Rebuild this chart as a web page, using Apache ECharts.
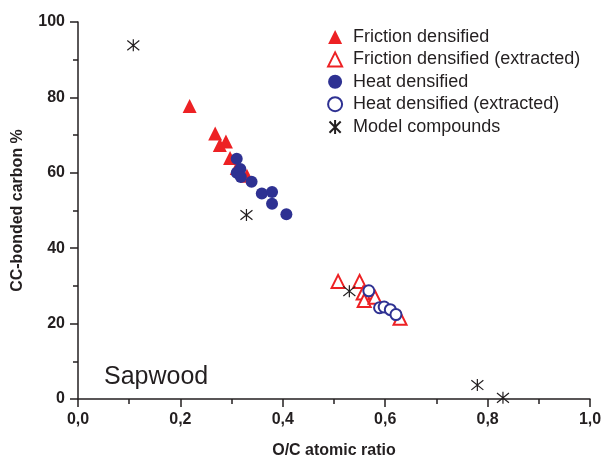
<!DOCTYPE html>
<html>
<head>
<meta charset="utf-8">
<script src="https://cdn.jsdelivr.net/npm/echarts@6/dist/echarts.min.js"></script>
<style>
html, body { margin: 0; padding: 0; background: #fff; }
#main { width: 605px; height: 464px; }
</style>
</head>
<body>
<div id="main"></div>
<script>
// O/C atomic ratio vs CC-bonded carbon %
var frictionDens = [[0.218, 77.7], [0.268, 70.4], [0.277, 67.4], [0.289, 68.3], [0.297, 63.9], [0.310, 61.3], [0.330, 59.2]];
var frictionExtr = [[0.508, 31.2], [0.550, 31.2], [0.557, 28.1], [0.559, 26.1], [0.580, 27.0], [0.629, 21.4]];
var heatDens = [[0.310, 63.7], [0.317, 61.0], [0.310, 60.0], [0.318, 58.9], [0.339, 57.6], [0.359, 54.5], [0.379, 54.9], [0.379, 51.8], [0.407, 49.0]];
var heatExtr = [[0.568, 28.7], [0.589, 24.2], [0.598, 24.4], [0.610, 23.7], [0.621, 22.4]];
var modelComp = [[0.108, 93.8], [0.329, 48.8], [0.530, 28.6], [0.780, 3.7], [0.830, 0.3]];

var seriesNames = ['Friction densified', 'Friction densified (extracted)', 'Heat densified', 'Heat densified (extracted)', 'Model compounds'];
var xTicks = ['0,0', '0,2', '0,4', '0,6', '0,8', '1,0'];

var red = '#ed2124';
var blue = '#2e3192';
var ink = '#231f20';
var star = 'path://M0,-10L0,10M-8,-8L8,8M-8,8L8,-8';

var myChart = echarts.init(document.getElementById('main'));
var font = 'Liberation Sans, Arial, sans-serif';

var option = {
	animation: false,
	backgroundColor: '#fff',
	title: {
		text: 'Sapwood',
		left: 99,
		top: 360,
		textStyle: { fontFamily: font, fontSize: 25, fontWeight: 'normal', color: ink }
	},
	legend: {
		orient: 'vertical',
		left: 322,
		top: 23,
		itemWidth: 14,
		itemHeight: 14,
		itemGap: 4.4,
		data: seriesNames,
		textStyle: { fontFamily: font, fontSize: 18, color: ink, padding: [0, 0, 0, 6] }
	},
	grid: { left: 78, right: 15, top: 22, bottom: 60 },
	xAxis: {
		type: 'value',
		min: 0, max: 1, interval: 0.2,
		name: 'O/C atomic ratio',
		nameLocation: 'middle',
		nameGap: 44,
		nameTextStyle: { fontFamily: font, fontSize: 16, fontWeight: 'bold', color: ink },
		axisLine: { lineStyle: { color: ink, width: 1.5 } },
		axisTick: { length: 8, lineStyle: { color: ink, width: 1.5 } },
		minorTick: { show: true, splitNumber: 2, length: 5, lineStyle: { color: ink, width: 1.5 } },
		splitLine: { show: false },
		axisLabel: {
			fontFamily: font, fontSize: 16, fontWeight: 'bold', color: ink, margin: 13,
			formatter: function(v) { return xTicks[Math.round(v * 5)]; }
		}
	},
	yAxis: {
		type: 'value',
		min: 0, max: 100, interval: 20,
		name: 'CC-bonded carbon %',
		nameLocation: 'middle',
		nameGap: 52,
		nameTextStyle: { fontFamily: font, fontSize: 16, fontWeight: 'bold', color: ink },
		axisLine: { show: true, lineStyle: { color: ink, width: 1.5 } },
		axisTick: { show: true, length: 8, lineStyle: { color: ink, width: 1.5 } },
		minorTick: { show: true, splitNumber: 2, length: 5, lineStyle: { color: ink, width: 1.5 } },
		splitLine: { show: false },
		axisLabel: { fontFamily: font, fontSize: 16, fontWeight: 'bold', color: ink, margin: 13 }
	},
	series: [
		{
			name: seriesNames[0], type: 'scatter', data: frictionDens,
			symbol: 'triangle', symbolSize: 14,
			itemStyle: { color: red, opacity: 1 }
		},
		{
			name: seriesNames[1], type: 'scatter', data: frictionExtr,
			symbol: 'triangle', symbolSize: 13,
			itemStyle: { color: '#fff', borderColor: red, borderWidth: 2, opacity: 1 }
		},
		{
			name: seriesNames[2], type: 'scatter', data: heatDens,
			symbol: 'circle', symbolSize: 12,
			itemStyle: { color: blue, opacity: 1 }
		},
		{
			name: seriesNames[3], type: 'scatter', data: heatExtr,
			symbol: 'circle', symbolSize: 11,
			itemStyle: { color: '#fff', borderColor: blue, borderWidth: 2, opacity: 1 }
		},
		{
			name: seriesNames[4], type: 'scatter', data: modelComp,
			symbol: star, symbolSize: 12,
			itemStyle: { color: 'none', borderColor: ink, borderWidth: 1.2, opacity: 1 }
		}
	]
};

myChart.setOption(option);
</script>
</body>
</html>
